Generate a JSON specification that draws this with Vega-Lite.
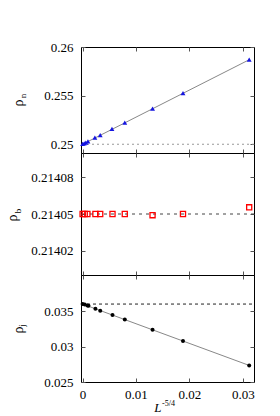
{
  "$schema": "https://vega.github.io/schema/vega-lite/v6.json",
  "padding": {"left": 4, "top": 40, "right": 5, "bottom": 2},
  "background": "white",
  "spacing": 0,
  "bounds": "flush",
  "config": {
    "view": {"stroke": "#000000", "strokeWidth": 1},
    "font": "Liberation Serif, Times New Roman, serif",
    "axis": {
      "domain": false,
      "grid": false,
      "tickColor": "#555555",
      "tickSize": -4,
      "labelFont": "Liberation Serif, Times New Roman, serif",
      "labelFontSize": 13,
      "labelColor": "#000000",
      "titleFont": "Liberation Serif, Times New Roman, serif",
      "titleColor": "#000000",
      "titleFontWeight": "normal"
    }
  },
  "vconcat": [
    {
      "width": 173,
      "height": 106,
      "resolve": {"axis": {"x": "independent", "y": "independent"}},
      "layer": [
        {
          "data": {"values": [{"x": 0, "y": 0.25}, {"x": 0.0312, "y": 0.25869}]},
          "mark": {"type": "line", "color": "#888888", "strokeWidth": 1},
          "encoding": {
            "x": {"field": "x", "type": "quantitative", "scale": {"domain": [-0.0003, 0.0321], "nice": false, "zero": false},
              "axis": {"orient": "bottom", "values": [0, 0.01, 0.02, 0.03], "labels": false, "title": null}},
            "y": {"field": "y", "type": "quantitative", "scale": {"domain": [0.2491, 0.26], "nice": false, "zero": false},
              "axis": {"orient": "left", "values": [0.25, 0.255, 0.26], "format": "~g", "labelPadding": 12,
                "title": "ρ", "titleFontSize": 14, "titleAngle": 270, "titleAlign": "center", "titleBaseline": "alphabetic",
                "titleX": -58.5, "titleY": 55.5}}
          }
        },
        {
          "data": {"values": [{"y": 0.25}]},
          "mark": {"type": "rule", "color": "#999999", "strokeWidth": 1.2, "strokeDash": [2, 3]},
          "encoding": {
            "y": {"field": "y", "type": "quantitative",
              "axis": {"orient": "left", "labels": false, "ticks": false, "title": "n", "titleFontSize": 9,
                "titleAngle": 270, "titleAlign": "center", "titleBaseline": "alphabetic", "titleX": -55.5, "titleY": 48.5}}
          }
        },
        {
          "data": {"values": [
            {"x": 0, "y": 0.25003},
            {"x": 0.0003, "y": 0.2501},
            {"x": 0.0006, "y": 0.25017},
            {"x": 0.001, "y": 0.25029},
            {"x": 0.0023, "y": 0.25067},
            {"x": 0.0033, "y": 0.25093},
            {"x": 0.0055, "y": 0.25157},
            {"x": 0.0079, "y": 0.25222},
            {"x": 0.0131, "y": 0.25366},
            {"x": 0.0188, "y": 0.25525},
            {"x": 0.0312, "y": 0.25869}
          ]},
          "mark": {"type": "point", "shape": "triangle-up", "filled": true, "color": "#1515e0", "size": 24, "opacity": 1},
          "encoding": {
            "x": {"field": "x", "type": "quantitative",
              "axis": {"orient": "top", "values": [0, 0.01, 0.02, 0.03], "labels": false, "title": null}},
            "y": {"field": "y", "type": "quantitative",
              "axis": {"orient": "right", "values": [0.25, 0.255, 0.26], "labels": false, "title": null}}
          }
        }
      ]
    },
    {
      "width": 173,
      "height": 122,
      "resolve": {"axis": {"x": "independent", "y": "independent"}},
      "layer": [
        {
          "data": {"values": [{"y": 0.21405}]},
          "mark": {"type": "rule", "color": "#444444", "strokeWidth": 1, "strokeDash": [3, 4]},
          "encoding": {
            "y": {"field": "y", "type": "quantitative", "scale": {"domain": [0.214, 0.2141], "nice": false, "zero": false},
              "axis": {"orient": "left", "values": [0.21402, 0.21405, 0.21408], "format": "~g", "labelPadding": 12,
                "title": "ρ", "titleFontSize": 14, "titleAngle": 270, "titleAlign": "center", "titleBaseline": "alphabetic",
                "titleX": -65, "titleY": 64.5}}
          }
        },
        {
          "data": {"values": [
            {"x": 0, "y": 0.21405},
            {"x": 0.0004, "y": 0.21405},
            {"x": 0.0009, "y": 0.21405},
            {"x": 0.0024, "y": 0.21405},
            {"x": 0.0033, "y": 0.21405},
            {"x": 0.0056, "y": 0.21405},
            {"x": 0.0079, "y": 0.21405},
            {"x": 0.0131, "y": 0.214049},
            {"x": 0.0188, "y": 0.21405},
            {"x": 0.0312, "y": 0.2140555}
          ]},
          "mark": {"type": "point", "shape": "square", "filled": false, "color": "#ff0000", "strokeWidth": 1.3, "size": 26, "opacity": 1},
          "encoding": {
            "x": {"field": "x", "type": "quantitative", "scale": {"domain": [-0.0003, 0.0321], "nice": false, "zero": false},
              "axis": {"orient": "bottom", "values": [0, 0.01, 0.02, 0.03], "labels": false, "title": null}},
            "y": {"field": "y", "type": "quantitative",
              "axis": {"orient": "left", "labels": false, "ticks": false, "title": "b", "titleFontSize": 9,
                "titleAngle": 270, "titleAlign": "center", "titleBaseline": "alphabetic", "titleX": -61, "titleY": 57.5}}
          }
        },
        {
          "data": {"values": [{"x": 0, "y": 0.21405}]},
          "mark": {"type": "point", "opacity": 0},
          "encoding": {
            "x": {"field": "x", "type": "quantitative",
              "axis": {"orient": "top", "values": [0, 0.01, 0.02, 0.03], "labels": false, "title": null}},
            "y": {"field": "y", "type": "quantitative",
              "axis": {"orient": "right", "values": [0.21402, 0.21405, 0.21408], "labels": false, "title": null}}
          }
        }
      ]
    },
    {
      "width": 173,
      "height": 107,
      "resolve": {"axis": {"x": "independent", "y": "independent"}},
      "layer": [
        {
          "data": {"values": [{"x": 0, "y": 0.036}, {"x": 0.0312, "y": 0.02734}]},
          "mark": {"type": "line", "color": "#888888", "strokeWidth": 1},
          "encoding": {
            "x": {"field": "x", "type": "quantitative", "scale": {"domain": [-0.0003, 0.0321], "nice": false, "zero": false},
              "axis": {"orient": "bottom", "values": [0, 0.01, 0.02, 0.03], "format": "~g", "labelPadding": 10,
                "title": "L", "titleFontSize": 13, "titleFontStyle": "italic", "titleAlign": "right", "titleBaseline": "alphabetic",
                "titleX": 80, "titleY": 29}},
            "y": {"field": "y", "type": "quantitative", "scale": {"domain": [0.025, 0.0401], "nice": false, "zero": false},
              "axis": {"orient": "left", "values": [0.025, 0.03, 0.035], "format": "~g", "labelPadding": 12,
                "title": "ρ", "titleFontSize": 14, "titleAngle": 270, "titleAlign": "center", "titleBaseline": "alphabetic",
                "titleX": -58.5, "titleY": 54.5}}
          }
        },
        {
          "data": {"values": [{"x1": -0.0003, "x2": 0.0321, "y": 0.036}]},
          "mark": {"type": "rule", "color": "#222222", "strokeWidth": 1, "strokeDash": [3, 3]},
          "encoding": {
            "x": {"field": "x1", "type": "quantitative",
              "axis": {"orient": "bottom", "labels": false, "ticks": false, "title": "-5/4", "titleFontSize": 8,
                "titleAlign": "left", "titleBaseline": "alphabetic", "titleX": 80.5, "titleY": 23}},
            "x2": {"field": "x2"},
            "y": {"field": "y", "type": "quantitative",
              "axis": {"orient": "left", "labels": false, "ticks": false, "title": "j", "titleFontSize": 9,
                "titleAngle": 270, "titleAlign": "center", "titleBaseline": "alphabetic", "titleX": -57, "titleY": 50}}
          }
        },
        {
          "data": {"values": [
            {"x": 0, "y": 0.03599},
            {"x": 0.0004, "y": 0.03593},
            {"x": 0.0009, "y": 0.03579},
            {"x": 0.0011, "y": 0.03575},
            {"x": 0.0024, "y": 0.03532},
            {"x": 0.0033, "y": 0.03504},
            {"x": 0.0056, "y": 0.03444},
            {"x": 0.0079, "y": 0.03382},
            {"x": 0.0131, "y": 0.03237},
            {"x": 0.0188, "y": 0.03077},
            {"x": 0.0312, "y": 0.02734}
          ]},
          "mark": {"type": "circle", "color": "#000000", "size": 16, "opacity": 1},
          "encoding": {
            "x": {"field": "x", "type": "quantitative",
              "axis": {"orient": "top", "values": [0, 0.01, 0.02, 0.03], "labels": false, "title": null}},
            "y": {"field": "y", "type": "quantitative",
              "axis": {"orient": "right", "values": [0.025, 0.03, 0.035], "labels": false, "title": null}}
          }
        }
      ]
    }
  ]
}
